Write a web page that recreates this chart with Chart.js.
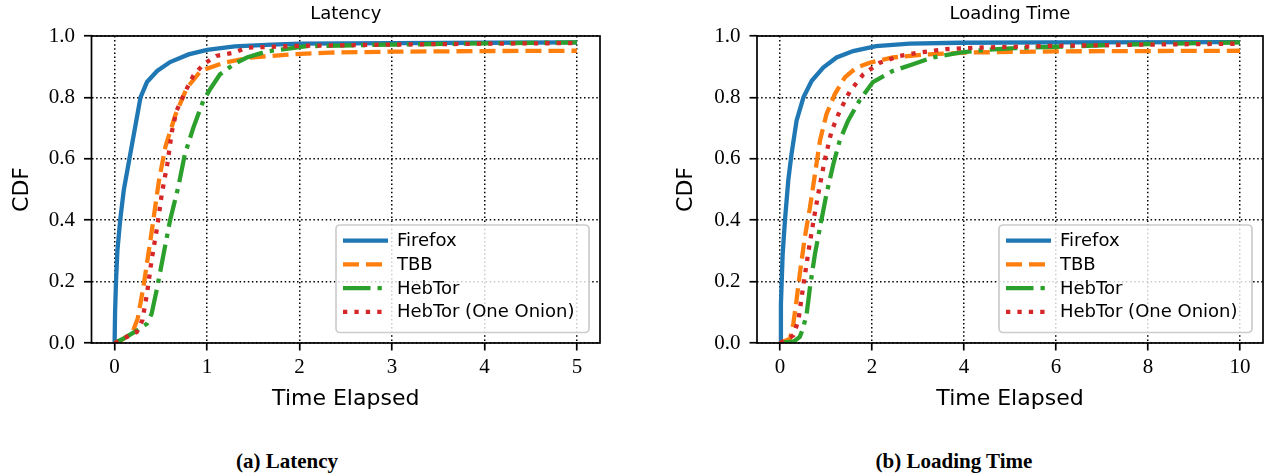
<!DOCTYPE html>
<html><head><meta charset="utf-8">
<script src="https://cdn.jsdelivr.net/npm/chart.js@4"></script>
<style>
html,body{margin:0;padding:0;background:#fff;width:1268px;height:476px;overflow:hidden}
#w{position:relative;width:1268px;height:476px}
canvas{position:absolute;top:0}
.cap{position:absolute;font:bold 21px "Liberation Serif",serif;text-align:center;line-height:21px;color:#000;white-space:nowrap}
</style></head><body>
<div id="w">
<canvas id="c1" width="634" height="430" style="left:0"></canvas>
<canvas id="c2" width="634" height="430" style="left:634px"></canvas>
<div class="cap" style="left:137px;width:300px;top:451px">(a) Latency</div>
<div class="cap" style="left:804px;width:300px;top:451px">(b) Loading Time</div>
</div>
<script>
// ---------- data ----------
const seriesNames = ["Firefox", "TBB", "HebTor", "HebTor (One Onion)"];
const yTicks = [0, 0.2, 0.4, 0.6, 0.8, 1.0];
const latencyXTicks = [0, 1, 2, 3, 4, 5];
const loadingXTicks = [0, 2, 4, 6, 8, 10];

// Latency CDFs: [time, cdf]
const latFirefox = [[0,0],[0.005,0.1],[0.015,0.2],[0.03,0.3],[0.06,0.4],[0.1,0.5],[0.16,0.6],[0.22,0.7],[0.28,0.8],[0.35,0.85],[0.46,0.886],[0.6,0.915],[0.8,0.94],[1.0,0.955],[1.3,0.966],[1.7,0.972],[2.0,0.975],[3.0,0.977],[4.0,0.978],[5.0,0.979]];
const latTBB = [[0,0],[0.08,0.01],[0.15,0.025],[0.2,0.04],[0.25,0.08],[0.31,0.18],[0.39,0.34],[0.48,0.53],[0.55,0.64],[0.66,0.745],[0.78,0.83],[0.93,0.886],[1.18,0.913],[1.47,0.93],[1.9,0.94],[2.33,0.946],[3,0.949],[4,0.951],[5,0.952]];
const latHebTor = [[0,0],[0.1,0.015],[0.24,0.04],[0.35,0.063],[0.4,0.095],[0.46,0.18],[0.53,0.29],[0.6,0.4],[0.69,0.51],[0.76,0.615],[0.85,0.7],[0.96,0.79],[1.04,0.83],[1.14,0.875],[1.29,0.908],[1.43,0.93],[1.65,0.95],[2.08,0.967],[3,0.972],[4,0.976],[5,0.979]];
const latOneOnion = [[0,0],[0.1,0.015],[0.24,0.036],[0.3,0.074],[0.35,0.16],[0.4,0.27],[0.46,0.377],[0.51,0.485],[0.57,0.583],[0.62,0.69],[0.67,0.756],[0.75,0.81],[0.85,0.87],[0.96,0.908],[1.1,0.935],[1.29,0.946],[1.43,0.962],[2,0.968],[3,0.972],[4,0.975],[5,0.977]];

// Loading time CDFs: [time, cdf]
const ldFirefox = [[0,0],[0.02,0.128],[0.058,0.29],[0.108,0.4],[0.18,0.53],[0.25,0.615],[0.36,0.724],[0.51,0.8],[0.69,0.854],[0.94,0.897],[1.23,0.93],[1.59,0.951],[2.09,0.967],[2.82,0.975],[3.9,0.978],[6,0.979],[10,0.98]];
const ldTBB = [[0,0],[0.22,0.014],[0.29,0.063],[0.36,0.14],[0.43,0.225],[0.54,0.345],[0.65,0.44],[0.76,0.55],[0.87,0.66],[1.01,0.745],[1.19,0.81],[1.41,0.865],[1.66,0.897],[1.95,0.913],[2.45,0.93],[3.18,0.94],[4.04,0.946],[6,0.95],[10,0.952]];
const ldHebTor = [[0,0],[0.3,0.005],[0.43,0.02],[0.5,0.047],[0.58,0.095],[0.65,0.18],[0.76,0.29],[0.87,0.377],[1.01,0.485],[1.16,0.583],[1.3,0.66],[1.48,0.724],[1.73,0.79],[2.02,0.85],[2.45,0.886],[2.89,0.908],[3.32,0.93],[3.9,0.946],[4.5,0.955],[5,0.96],[6,0.965],[8,0.974],[10,0.979]];
const ldOneOnion = [[0,0],[0.29,0.025],[0.4,0.074],[0.5,0.18],[0.61,0.29],[0.72,0.39],[0.83,0.485],[0.97,0.594],[1.12,0.69],[1.3,0.756],[1.52,0.82],[1.81,0.875],[2.17,0.913],[2.6,0.935],[3.03,0.946],[3.61,0.957],[4.26,0.962],[6,0.968],[8,0.972],[10,0.975]];

// ---------- styles ----------
const colors = ['#1f77b4', '#ff7f0e', '#2ca02c', '#d62728'];
const dashes = [[], [16, 7], [27.5, 7, 4.3, 7], [4.3, 7.1]];
const LW = 4.3;
const SANS = '"DejaVu Sans", sans-serif';
const SERIF = '"Liberation Serif", serif';

const framePlugin = {
  id: 'frameLegend',
  afterDatasetsDraw(chart) {
    const {ctx, chartArea: a} = chart;
    ctx.save();
    ctx.strokeStyle = '#000';
    ctx.lineWidth = 1.7;
    ctx.setLineDash([]);
    ctx.strokeRect(a.left, a.top, a.right - a.left, a.bottom - a.top);
    ctx.restore();
  },
  afterDraw(chart) {
    const {ctx, chartArea: a} = chart;
    const w = 253, h = 107.5;
    const x0 = a.right - 11 - w, y0 = a.bottom - 10.5 - h;
    ctx.save();
    ctx.beginPath();
    ctx.roundRect(x0, y0, w, h, 4);
    ctx.fillStyle = 'rgba(255,255,255,0.8)';
    ctx.fill();
    ctx.strokeStyle = '#cccccc';
    ctx.lineWidth = 1.7;
    ctx.stroke();
    seriesNames.forEach((name, i) => {
      const y = y0 + 15.7 + i * 23.7;
      ctx.beginPath();
      ctx.setLineDash(dashes[i]);
      ctx.lineCap = 'butt';
      ctx.strokeStyle = colors[i];
      ctx.lineWidth = LW;
      ctx.moveTo(x0 + 7, y);
      ctx.lineTo(x0 + 52, y);
      ctx.stroke();
      ctx.setLineDash([]);
      ctx.fillStyle = '#000';
      ctx.font = '18px ' + SANS;
      ctx.textBaseline = 'middle';
      ctx.textAlign = 'left';
      ctx.fillText(name, x0 + 61, y + 1);
    });
    ctx.restore();
  }
};

function makeChart(id, title, series, xTicks, xMin, xMax, yWidth, yTitlePad, padRight) {
  const datasets = series.map((pts, i) => ({
    label: seriesNames[i],
    data: pts.map(([x, y]) => ({x, y})),
    showLine: true,
    borderColor: colors[i],
    backgroundColor: colors[i],
    borderWidth: LW,
    borderDash: dashes[i],
    borderCapStyle: 'butt',
    pointRadius: 0,
    tension: 0,
    fill: false,
    order: 3 - i
  }));
  const gridCommon = {color: '#000', lineWidth: 1.5, tickLength: 7.5, tickWidth: 1.7, tickColor: '#000'};
  return new Chart(document.getElementById(id), {
    type: 'scatter',
    data: {datasets},
    plugins: [framePlugin],
    options: {
      responsive: false,
      animation: false,
      events: [],
      devicePixelRatio: 1,
      layout: {padding: {left: 0, right: padRight, top: 0, bottom: 0}},
      plugins: {
        legend: {display: false},
        tooltip: {enabled: false},
        title: {display: true, text: title, fullSize: false, color: '#000',
          font: {family: SANS, size: 18, weight: 'normal'}, padding: {top: 4, bottom: 10.4}}
      },
      scales: {
        x: {
          type: 'linear', min: xMin, max: xMax,
          afterBuildTicks: s => { s.ticks = xTicks.map(v => ({value: v})); },
          afterFit: s => { s.height = 87; },
          ticks: {color: '#000', font: {family: SERIF, size: 21}, padding: 4.7, maxRotation: 0, autoSkip: false,
            callback: v => String(v)},
          grid: gridCommon,
          border: {display: false, dash: [1.5, 2.6]},
          title: {display: true, text: 'Time Elapsed', color: '#000', font: {family: SANS, size: 22}, padding: {top: 0, bottom: 17.8}}
        },
        y: {
          type: 'linear', min: 0, max: 1,
          afterBuildTicks: s => { s.ticks = yTicks.map(v => ({value: v})); },
          afterFit: s => { s.width = yWidth; },
          ticks: {color: '#000', font: {family: SERIF, size: 21}, padding: 9, autoSkip: false,
            callback: v => v.toFixed(1)},
          grid: gridCommon,
          border: {display: false, dash: [1.5, 2.6]},
          title: {display: true, text: 'CDF', color: '#000', font: {family: SANS, size: 22}, padding: {top: yTitlePad, bottom: 0}}
        }
      }
    }
  });
}

makeChart('c1', 'Latency', [latFirefox, latTBB, latHebTor, latOneOnion], latencyXTicks, -0.25, 5.25, 91.5, 9.3, 34);
makeChart('c2', 'Loading Time', [ldFirefox, ldTBB, ldHebTor, ldOneOnion], loadingXTicks, -0.5, 10.5, 123, 38.8, 5);
</script>
</body></html>
